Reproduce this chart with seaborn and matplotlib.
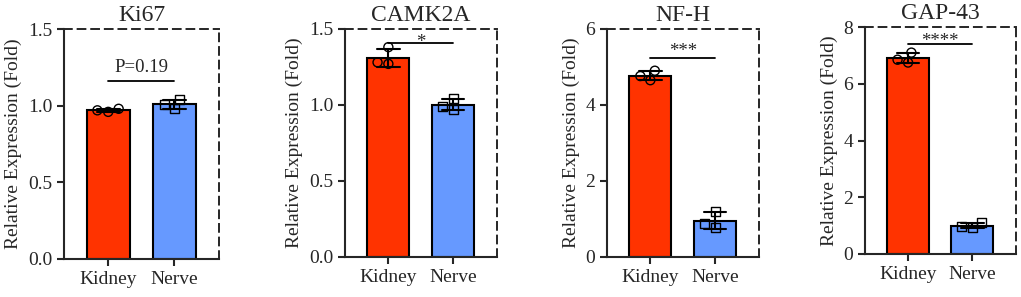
import numpy as np
import pandas as pd
import matplotlib
matplotlib.use("Agg")
import matplotlib.pyplot as plt
import seaborn as sns

# ---------------- data ----------------
GROUPS = ["Kidney", "Nerve"]
GENES = ["Ki67", "CAMK2A", "NF-H", "GAP-43"]

ki67_kidney = [0.96, 0.98, 0.97]
ki67_nerve = [1.04, 0.98, 1.01]
camk2a_kidney = [1.38, 1.27, 1.28]
camk2a_nerve = [1.04, 0.97, 0.99]
nfh_kidney = [4.90, 4.65, 4.76]
nfh_nerve = [1.20, 0.78, 0.87]
gap43_kidney = [7.10, 6.75, 6.85]
gap43_nerve = [1.10, 0.92, 0.98]

SIG_LABELS = ["P=0.19", "*", "***", "****"]
SIG_Y = [1.16, 1.41, 5.24, 7.4]
Y_MAX = [1.5, 1.5, 6, 8]
Y_TICKS = [[0.0, 0.5, 1.0, 1.5], [0.0, 0.5, 1.0, 1.5], [0, 2, 4, 6], [0, 2, 4, 6, 8]]
Y_FMT = ["{:.1f}", "{:.1f}", "{:d}", "{:d}"]

values = {
    "Ki67": (ki67_kidney, ki67_nerve),
    "CAMK2A": (camk2a_kidney, camk2a_nerve),
    "NF-H": (nfh_kidney, nfh_nerve),
    "GAP-43": (gap43_kidney, gap43_nerve),
}

# ---------------- style ----------------
sns.set_style("ticks")
plt.rcParams["font.family"] = ["Liberation Serif", "DejaVu Serif"]
plt.rcParams["axes.linewidth"] = 1.5

COLORS = {"Kidney": "#FF3300", "Nerve": "#6699FF"}
MARKERS = {"Kidney": "o", "Nerve": "s"}
SIG_OFFSET = [6.5, -3, 1.5, -1.5]   # label baseline above the bracket, points

# axes boxes in figure fractions
POS = [
    [0.0627, 0.128, 0.1518, 0.774],
    [0.3379, 0.1347, 0.149, 0.768],
    [0.5945, 0.1347, 0.149, 0.768],
    [0.8472, 0.1448, 0.148, 0.764],
]

fig = plt.figure(figsize=(10.21, 2.97), dpi=100)

for i, gene in enumerate(GENES):
    ax = fig.add_axes(POS[i])
    kid, ner = values[gene]
    df = pd.DataFrame({
        "group": ["Kidney"] * len(kid) + ["Nerve"] * len(ner),
        "value": kid + ner,
    })

    sns.barplot(data=df, x="group", y="value", hue="group", order=GROUPS,
                palette=COLORS, saturation=1, errorbar="sd", capsize=0.35, width=0.65,
                edgecolor="black", linewidth=1.5, legend=False,
                err_kws={"color": "black", "linewidth": 1.5}, ax=ax)

    for g in GROUPS:
        sns.swarmplot(data=df[df["group"] == g], x="group", y="value", order=GROUPS,
                      marker=MARKERS[g], size=6.5, facecolor="none",
                      edgecolor="black", linewidth=1.0, ax=ax)

    # significance bracket
    ax.plot([0, 1], [SIG_Y[i], SIG_Y[i]], color="black", linewidth=1.3)
    ax.annotate(SIG_LABELS[i], xy=(0.5, SIG_Y[i]), xytext=(0, SIG_OFFSET[i]),
                textcoords="offset points", ha="center", va="baseline", fontsize=13.5)

    ax.set_xlim(-0.67, 1.68)
    ax.set_ylim(0, Y_MAX[i])
    ax.set_yticks(Y_TICKS[i])
    ax.set_yticklabels([Y_FMT[i].format(t) for t in Y_TICKS[i]], fontsize=14)
    ax.set_xticks([0, 1])
    ax.set_xticklabels(GROUPS, fontsize=14)
    ax.tick_params(axis="both", width=1.5, length=5, direction="out")
    ax.set_xlabel("")
    ax.set_ylabel("Relative Expression (Fold)", fontsize=14)
    ax.set_title(gene, fontsize=17, pad=6)

    for side in ["top", "right"]:
        ax.spines[side].set_visible(True)
        ax.spines[side].set_linestyle((0, (4, 3)))
        ax.spines[side].set_linewidth(1.4)

fig.savefig("out.png", dpi=100)
